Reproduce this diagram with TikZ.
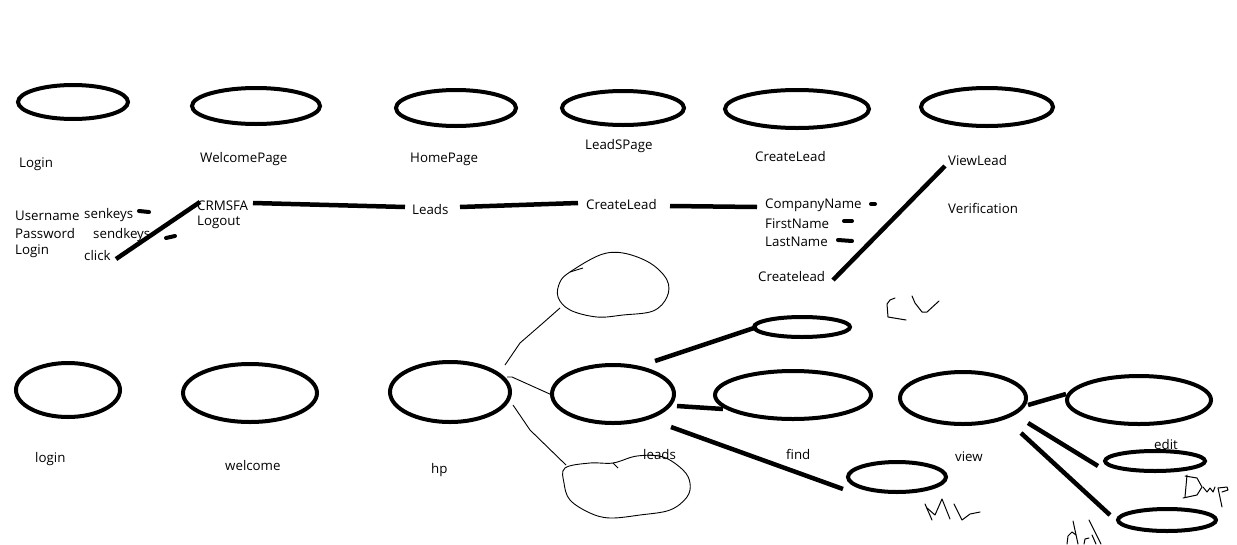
\documentclass[tikz,border=0pt]{standalone}
\usepackage{fontspec}
\setmainfont{Open Sans}
\usetikzlibrary{shapes.geometric}
\begin{document}
\begin{tikzpicture}[x=1pt,y=-1pt,
  ov/.style={draw,ellipse,line width=4pt,inner sep=0pt},
  lbl/.style={anchor=west,inner sep=0pt,yshift=-1.5pt,font=\fontsize{13.3}{15}\selectfont},
  thick/.style={line width=4.5pt},
  thin/.style={line width=0.9pt},
  hand/.style={line width=1pt,line join=round,line cap=round}]
\useasboundingbox[fill=white] (0,0) rectangle (1237,544);
% top row ellipses
\node[ov,minimum width=110pt,minimum height=34pt] (o1) at (73,102) {};
\node[ov,minimum width=128pt,minimum height=36pt] (o2) at (256,106) {};
\node[ov,minimum width=120pt,minimum height=36pt] (o3) at (456,108) {};
\node[ov,minimum width=122pt,minimum height=34pt] (o4) at (623,108) {};
\node[ov,minimum width=144pt,minimum height=38pt] (o5) at (797,109) {};
\node[ov,minimum width=132pt,minimum height=38pt] (o6) at (987,107) {};
% top labels
\node[lbl] (t1) at (19,163) {Login};
\node[lbl] (t2) at (200,158) {WelcomePage};
\node[lbl] (t3) at (410,158) {HomePage};
\node[lbl] (t4) at (585,145) {LeadSPage};
\node[lbl] (t5) at (755,155) {CreateLead};
\node[lbl] (t6) at (948,159) {ViewLead};
% second row texts
\node[lbl] (u) at (15,214) {Username};
\node[lbl] (p) at (15,232) {Password};
\node[lbl] (lg) at (15,250) {Login};
\node[lbl] (sk) at (84,214) {senkeys};
\node[lbl] (sk2) at (93,234) {sendkeys};
\node[lbl] (ck) at (84,254) {click};
\node[lbl] (crm) at (197,204) {CRMSFA};
\node[lbl] (lo) at (197,221) {Logout};
\node[lbl] (ld) at (412,208) {Leads};
\node[lbl] (cl) at (586,203) {CreateLead};
\node[lbl] (cn) at (765,204) {CompanyName};
\node[lbl] (fn) at (765,222) {FirstName};
\node[lbl] (ln) at (765,240) {LastName};
\node[lbl] (cl2) at (758,275) {Createlead};
\node[lbl] (ver) at (948,207) {Verification};
% coordinates for connectors
\coordinate (a1) at (116,259); \coordinate (a2) at (200,202);
\coordinate (b1) at (253,203); \coordinate (b2) at (405,207);
\coordinate (c1) at (460,207); \coordinate (c2) at (578,203);
\coordinate (d1) at (670,206); \coordinate (d2) at (757,207);
\coordinate (e1) at (833,280); \coordinate (e2) at (945,166);
\draw[thick] (a1) -- (a2);
\draw[thick] (b1) -- (b2);
\draw[thick] (c1) -- (c2);
\draw[thick] (d1) -- (d2);
\draw[thick] (e1) -- (e2);
% small dashes
\draw[line width=4pt,line cap=round] (139,211) -- (149,212);
\draw[line width=4pt,line cap=round] (166,238) -- (175,236);
\draw[line width=4pt,line cap=round] (871,204) -- (875,204);
\draw[line width=4pt,line cap=round] (844,221) -- (852,221);
\draw[line width=4pt,line cap=round] (838,240) -- (852,241);
% bottom row ellipses
\node[ov,minimum width=104pt,minimum height=54pt] (b_login) at (68,390) {};
\node[ov,minimum width=134pt,minimum height=58pt] (b_wel) at (250,393) {};
\node[ov,minimum width=120pt,minimum height=60pt] (hp) at (450,392) {};
\node[ov,minimum width=122pt,minimum height=58pt] (leads) at (613,394) {};
\node[ov,minimum width=96pt,minimum height=20pt] (cv) at (802,327) {};
\node[ov,minimum width=156pt,minimum height=48pt] (find) at (793,395) {};
\node[ov,minimum width=98pt,minimum height=30pt] (ml) at (897,477) {};
\node[ov,minimum width=126pt,minimum height=52pt] (view) at (963,398) {};
\node[ov,minimum width=144pt,minimum height=48pt] (r1) at (1139,400) {};
\node[ov,minimum width=100pt,minimum height=20pt] (r2) at (1155,461) {};
\node[ov,minimum width=98pt,minimum height=22pt] (r3) at (1167,520) {};
% bottom labels
\node[lbl] (bl1) at (35,458) {login};
\node[lbl] (bl2) at (225,464) {welcome};
\node[lbl] (bl3) at (431,469) {hp};
\node[lbl] (bl4) at (643,453) {leads};
\node[lbl] (bl5) at (786,453) {find};
\node[lbl] (bl6) at (955,455) {view};
\node[lbl] (bl7) at (1154,443) {edit};
% thick connectors bottom
\coordinate (f1) at (655,361); \coordinate (f2) at (757,327);
\coordinate (g1) at (677,406); \coordinate (g2) at (723,409);
\coordinate (h1) at (671,427); \coordinate (h2) at (843,489);
\coordinate (i1) at (1028,405); \coordinate (i2) at (1066,394);
\coordinate (j1) at (1028,423); \coordinate (j2) at (1098,466);
\coordinate (k1) at (1021,433); \coordinate (k2) at (1110,515);
\draw[thick] (f1) -- (f2);
\draw[thick] (g1) -- (g2);
\draw[thick] (h1) -- (h2);
\draw[thick] (i1) -- (i2);
\draw[thick] (j1) -- (j2);
\draw[thick] (k1) -- (k2);
% clouds
\draw[thin] plot[smooth cycle,tension=0.6] coordinates {(570,272) (600,255) (623,253) (650,263) (667,280) (667,297) (653,311) (623,315) (597,317) (570,310) (558,297) (560,282)};
\draw[thin] (570,272) -- (583,268);
\draw[thin] plot[smooth cycle,tension=0.6] coordinates {(565,468) (590,463) (613,463) (637,456) (663,457) (683,470) (690,483) (687,497) (670,510) (640,515) (610,518) (590,513) (570,500) (564,483)};
\draw[thin] (613,463) -- (618,468);
% thin connectors from hp
\coordinate (m1) at (505,365); \coordinate (m2) at (560,308);
\coordinate (n1) at (507,377); \coordinate (n2) at (552,395);
\coordinate (q1) at (513,405); \coordinate (q2) at (566,465);
\draw[thin] (m1) -- (520,343) -- (543,323) -- (m2);
\draw[thin] (n1) -- (512,377) -- (n2);
\draw[thin] (q1) -- (530,430) -- (q2);
% handwriting
\draw[hand] (895,298) -- (890,300) -- (887,304) -- (888,317) -- (906,320);
\draw[hand] (912,296) -- (915,303) -- (922,312) -- (927,312) -- (939,301);
\draw[hand] (925,504) -- (932,520);
\draw[hand] (927,508) -- (935,515) -- (942,499) -- (950,519);
\draw[hand] (954,504) -- (962,520) -- (970,514) -- (980,512);
\draw[hand] (1187,475) -- (1185,497);
\draw[hand] (1185,476) -- (1197,478) -- (1202,487) -- (1197,495) -- (1183,498);
\draw[hand] (1203,487) -- (1207,492) -- (1210,488) -- (1213,492) -- (1215,487);
\draw[hand] (1218,488) -- (1222,507);
\draw[hand] (1218,488) -- (1227,487) -- (1228,490) -- (1222,492);
\draw[hand] (1073,521) -- (1078,544);
\draw[hand] (1067,544) -- (1068,536) -- (1072,532) -- (1076,535);
\draw[hand] (1089,520) -- (1101,544);
\draw[hand] (1084,544) -- (1085,539) -- (1089,538);
\draw[hand] (1092,535) -- (1096,544);
\end{tikzpicture}
\end{document}
